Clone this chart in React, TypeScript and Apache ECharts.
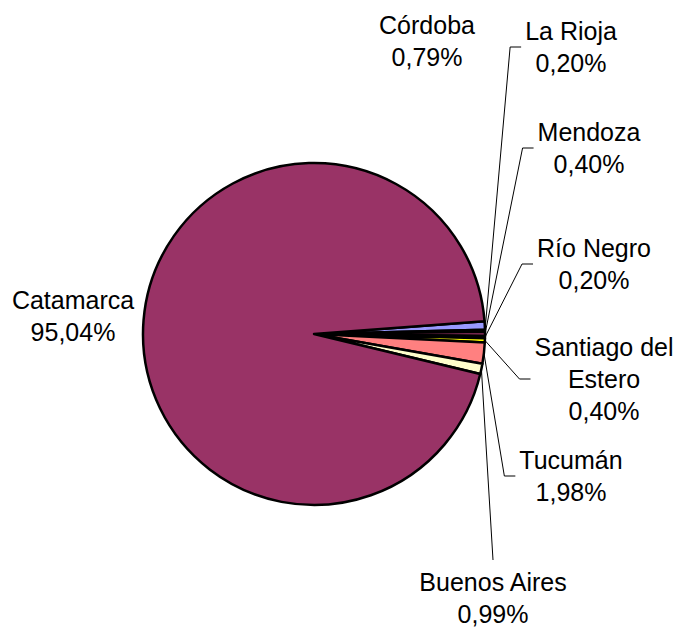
import React, { useEffect, useRef } from 'react';
import * as echarts from 'echarts';

const categories = ['Córdoba', 'La Rioja', 'Mendoza', 'Río Negro', 'Santiago del Estero', 'Tucumán', 'Buenos Aires', 'Catamarca'];
const shares = [0.79, 0.2, 0.4, 0.2, 0.4, 1.98, 0.99, 95.04];
const sliceColors = ['#9999FF', '#660066', '#993366', '#000080', '#FFFF00', '#FF8080', '#FFFFCC', '#993366'];
const labelCenters: Record<string, [number, number]> = {
  'Córdoba': [427, 41],
  'La Rioja': [571, 47],
  'Mendoza': [589, 148],
  'Río Negro': [594, 264],
  'Santiago del Estero': [604, 379],
  'Tucumán': [571, 476],
  'Buenos Aires': [493, 598],
  'Catamarca': [73, 316],
};
const noLeader = ['Córdoba', 'Catamarca'];
const leaderFromTop = ['Buenos Aires'];

export default function App() {
  const ref = useRef<HTMLDivElement>(null);
  useEffect(() => {
    if (!ref.current) return;
    const chart = echarts.init(ref.current, null, { renderer: 'svg' });
    const data = categories.map((name, i) => ({
      name,
      value: shares[i],
      itemStyle: { color: sliceColors[i] },
      labelLine: { show: !noLeader.includes(name) },
    }));
    chart.setOption({
      animation: false,
      backgroundColor: '#ffffff',
      series: [
        {
          type: 'pie',
          center: [314, 334],
          radius: 171,
          startAngle: 4.3,
          clockwise: true,
          avoidLabelOverlap: false,
          data,
          itemStyle: { borderColor: '#000000', borderWidth: 2.5 },
          label: {
            show: true,
            position: 'outside',
            color: '#000000',
            fontFamily: 'Liberation Sans, Arial, sans-serif',
            fontSize: 25,
            lineHeight: 32,
            align: 'center',
            formatter: (p: any) =>
              `${String(p.name).replace('del ', 'del\n')}\n${Number(p.value).toFixed(2).replace('.', ',')}%`,
          },
          labelLine: {
            show: true,
            length: 4,
            length2: 4,
            lineStyle: { color: '#000000', width: 1 },
          },
          labelLayout: (params: any) => {
            const name = categories[params.dataIndex];
            const pos = labelCenters[name];
            const out: any = { x: pos[0], y: pos[1], align: 'center', verticalAlign: 'middle' };
            const pts = params.labelLinePoints;
            if (pts && pts.length && !noLeader.includes(name)) {
              const w = params.labelRect.width;
              const h = params.labelRect.height;
              const start = pts[0];
              if (leaderFromTop.includes(name)) {
                const top = pos[1] - h / 2;
                out.labelLinePoints = [start, [pos[0], top - 6], [pos[0], top - 6]];
              } else {
                const left = pos[0] - w / 2;
                out.labelLinePoints = [start, [left - 15, pos[1]], [left - 4, pos[1]]];
              }
            }
            return out;
          },
          emphasis: { disabled: true },
        },
      ],
    });
    return () => chart.dispose();
  }, []);
  return <div ref={ref} style={{ position: 'fixed', left: 0, top: 0, width: 681, height: 628 }} />;
}
